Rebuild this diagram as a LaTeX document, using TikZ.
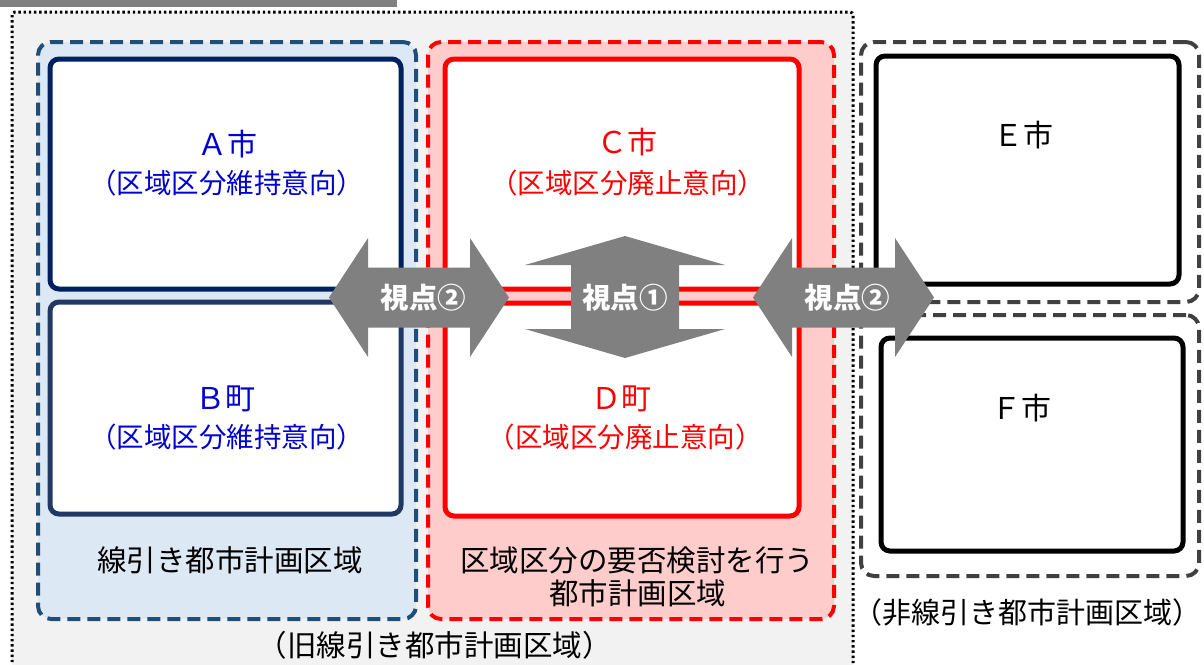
\documentclass[tikz,border=0pt]{standalone}
\usepackage{fontspec}
\setmainfont{Noto Sans CJK JP}
\definecolor{outerfill}{HTML}{F2F2F2}
\definecolor{bluefill}{HTML}{DDE8F5}
\definecolor{bluedash}{HTML}{1F4E79}
\definecolor{navyA}{HTML}{002060}
\definecolor{navyB}{HTML}{203864}
\definecolor{pinkfill}{HTML}{FFCCCC}
\definecolor{graydash}{HTML}{404040}
\definecolor{arrowgray}{HTML}{808080}
\definecolor{bluetext}{HTML}{0000D0}
\definecolor{redtext}{HTML}{FF0000}
\tikzset{
  region/.style={rounded corners=13pt, line width=4pt, dash pattern=on 13pt off 7pt, inner sep=0pt, outer sep=0pt},
  citybox/.style={rounded corners=9pt, line width=5pt, fill=white, inner sep=0pt, outer sep=0pt},
  arrowshape/.style={fill=arrowgray},
  bigtxt/.style={anchor=base, inner sep=0pt, font=\fontsize{30}{36}\selectfont},
  subtxt/.style={anchor=base, inner sep=0pt, font=\fontsize{27.5}{33}\selectfont},
  areatxt/.style={anchor=base, inner sep=0pt, font=\fontsize{29.5}{35}\selectfont},
  viewtxt/.style={anchor=base, inner sep=0pt, text=white, font=\fontsize{28.5}{34}\selectfont\bfseries},
}
\begin{document}
\begin{tikzpicture}[x=1pt,y=-1pt]
\useasboundingbox (0,0) rectangle (1204,664);
\fill[white] (0,0) rectangle (1204,664);
% top bar
\fill[arrowgray] (0,0) rectangle (397,6.5);
% outer dotted area
\draw[fill=outerfill, line width=3pt, dash pattern=on 2.4pt off 2.8pt, rounded corners=3pt] (12,12) rectangle (853,700);
% regions
\node[region, draw=bluedash, fill=bluefill, minimum width=378pt, minimum height=577pt] (blueReg) at (227,330.5) {};
\node[region, draw=red, fill=pinkfill, minimum width=406pt, minimum height=577pt] (redReg) at (631,330.5) {};
\node[region, draw=graydash, fill=white, minimum width=338pt, minimum height=260pt] (eReg) at (1030,172) {};
\node[region, draw=graydash, fill=white, minimum width=338pt, minimum height=261pt] (fReg) at (1030,445.5) {};
% city boxes
\node[citybox, draw=navyA, minimum width=351pt, minimum height=230pt] (A) at (225.5,174) {};
\node[citybox, draw=navyB, minimum width=351pt, minimum height=212pt] (B) at (225.5,408) {};
\node[citybox, draw=red, minimum width=354pt, minimum height=230pt] (C) at (622,174) {};
\node[citybox, draw=red, minimum width=354pt, minimum height=213pt] (D) at (622,409.5) {};
\node[citybox, draw=black, minimum width=303pt, minimum height=228pt] (E) at (1027.5,170) {};
\node[citybox, draw=black, minimum width=302pt, minimum height=213pt] (F) at (1032,444.5) {};
% arrows
\fill[arrowshape] (329,297.5) -- (368,238) -- (368,267.5) -- (470,267.5) -- (470,238) -- (509,297.5)
  -- (470,357) -- (470,327.5) -- (368,327.5) -- (368,357) -- cycle;
\fill[arrowshape] (753,297.5) -- (792,238) -- (792,267.5) -- (895,267.5) -- (895,238) -- (934,297.5)
  -- (895,357) -- (895,327.5) -- (792,327.5) -- (792,357) -- cycle;
\fill[arrowshape] (625,236) -- (725,265) -- (679,265) -- (679,329) -- (725,329) -- (625,358)
  -- (525,329) -- (571,329) -- (571,265) -- (525,265) -- cycle;
\node[viewtxt] (v2a) at (423.5,308.5) {視点②};
\node[viewtxt] (v1) at (625,308.5) {視点①};
\node[viewtxt] (v2b) at (847.5,308.5) {視点②};
% texts
\node[bigtxt, text=bluetext] (tA) at (227,155.5) {Ａ市};
\node[subtxt, text=bluetext] (sA) at (226.5,193) {（区域区分維持意向）};
\node[bigtxt, text=bluetext] (tB) at (225,409.5) {Ｂ町};
\node[subtxt, text=bluetext] (sB) at (226.5,447) {（区域区分維持意向）};
\node[bigtxt, text=redtext] (tC) at (627.5,153.5) {Ｃ市};
\node[subtxt, text=redtext] (sC) at (627.5,193) {（区域区分廃止意向）};
\node[bigtxt, text=redtext] (tD) at (621,409.5) {Ｄ町};
\node[subtxt, text=redtext] (sD) at (625,447) {（区域区分廃止意向）};
\node[bigtxt] (tE) at (1023,146.5) {Ｅ市};
\node[bigtxt] (tF) at (1021,419.5) {Ｆ市};
\node[areatxt] (l1) at (230,571) {線引き都市計画区域};
\node[areatxt] (l2a) at (637,571) {区域区分の要否検討を行う};
\node[areatxt] (l2b) at (637.5,604) {都市計画区域};
\node[areatxt] (l3) at (434.5,656) {（旧線引き都市計画区域）};
\node[areatxt, font=\fontsize{29}{35}\selectfont] (l4) at (1027,623) {（非線引き都市計画区域）};
\end{tikzpicture}
\end{document}
